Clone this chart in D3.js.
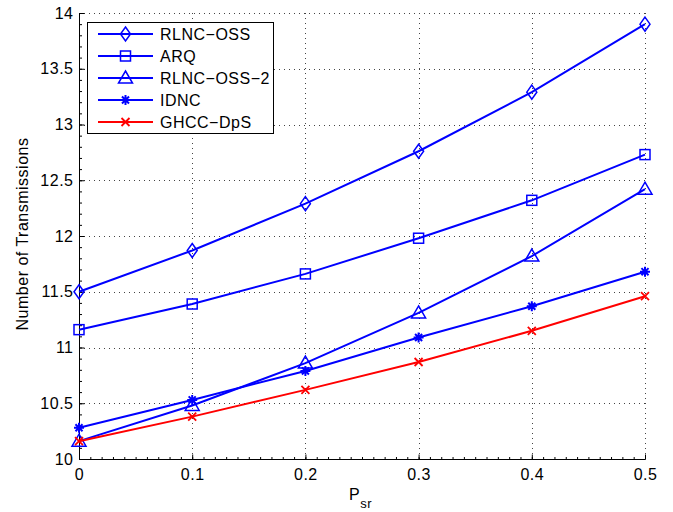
<!DOCTYPE html>
<html>
<head>
<meta charset="utf-8">
<script src="https://cdn.jsdelivr.net/npm/d3@7"></script>
<style>
  body { margin: 0; background: #fff; }
  text { font-family: "Liberation Sans", Helvetica, Arial, sans-serif; letter-spacing: 0.5px; }
</style>
</head>
<body>
<div id="chart"></div>
<script>
// データ-------------------------------------------------------------------
const psr = [0, 0.1, 0.2, 0.3, 0.4, 0.5];
const rlncOss = [11.50, 11.87, 12.29, 12.76, 13.29, 13.90];
const arq = [11.16, 11.39, 11.66, 11.98, 12.32, 12.73];
const rlncOss2 = [10.16, 10.48, 10.86, 11.31, 11.82, 12.42];
const idnc = [10.28, 10.53, 10.79, 11.09, 11.37, 11.68];
const ghcc = [10.16, 10.38, 10.62, 10.87, 11.15, 11.46];
const xTicks = [0, 0.1, 0.2, 0.3, 0.4, 0.5];
const yTicks = [10, 10.5, 11, 11.5, 12, 12.5, 13, 13.5, 14];

const series = [
  { name: 'RLNC\u2212OSS', values: rlncOss, color: '#0000ff', marker: 'diamond' },
  { name: 'ARQ', values: arq, color: '#0000ff', marker: 'square' },
  { name: 'RLNC\u2212OSS\u22122', values: rlncOss2, color: '#0000ff', marker: 'triangle' },
  { name: 'IDNC', values: idnc, color: '#0000ff', marker: 'star' },
  { name: 'GHCC\u2212DpS', values: ghcc, color: '#ff0000', marker: 'x' }
];

// SVG領域---------------------------------------------------------------
const width = 673, height = 512;
const margin = { left: 79, right: 28, top: 13, bottom: 53 };
const svg = d3.select('#chart').append('svg')
  .attr('width', width).attr('height', height);

const x = d3.scaleLinear().domain([0, 0.5]).range([margin.left, width - margin.right]);
const y = d3.scaleLinear().domain([10, 14]).range([height - margin.bottom, margin.top]);

// グリッド---------------------------------------------------------------
const grid = svg.append('g')
  .attr('stroke', '#444').attr('stroke-width', 1)
  .attr('stroke-dasharray', '1,4');
grid.selectAll('.gx').data(xTicks.slice(1)).enter().append('line')
  .attr('x1', d => Math.round(x(d)) + 0.5).attr('x2', d => Math.round(x(d)) + 0.5)
  .attr('y1', y(10)).attr('y2', y(14));
grid.selectAll('.gy').data(yTicks.slice(1)).enter().append('line')
  .attr('y1', d => Math.round(y(d)) + 0.5).attr('y2', d => Math.round(y(d)) + 0.5)
  .attr('x1', x(0)).attr('x2', x(0.5));

// 軸---------------------------------------------------------------------
const xAxis = svg.append('g')
  .attr('transform', 'translate(0,' + (Math.round(y(10)) + 0.5) + ')')
  .call(d3.axisBottom(x).tickValues(xTicks).tickFormat(d3.format('')).tickSize(-5).tickPadding(9));
const xMinor = svg.append('g')
  .attr('transform', 'translate(0,' + (Math.round(y(10)) + 0.5) + ')')
  .call(d3.axisBottom(x).tickValues(d3.range(0, 0.501, 0.01)).tickFormat('').tickSize(-2.5));
const yAxis = svg.append('g')
  .attr('transform', 'translate(' + (Math.round(x(0)) + 0.5) + ',0)')
  .call(d3.axisLeft(y).tickValues(yTicks).tickFormat(d3.format('')).tickSize(-5).tickPadding(6));
const yMinor = svg.append('g')
  .attr('transform', 'translate(' + (Math.round(x(0)) + 0.5) + ',0)')
  .call(d3.axisLeft(y).tickValues(d3.range(10, 14.001, 0.1)).tickFormat('').tickSize(-2.5));

[xAxis, yAxis, xMinor, yMinor].forEach(g => {
  g.select('.domain').attr('stroke', '#000');
  g.selectAll('.tick line').attr('stroke', '#000');
  g.selectAll('text').attr('font-size', '16px').attr('fill', '#000')
    .attr('font-family', '"Liberation Sans", Helvetica, Arial, sans-serif');
});
xMinor.select('.domain').remove();
yMinor.select('.domain').remove();
yAxis.select('.domain').attr('d', 'M0,' + y(14) + 'V' + (y(10) + 0.5));
xAxis.select('.domain').attr('d', 'M' + x(0) + ',0H' + x(0.5));

// ラベル-----------------------------------------------------------------
svg.append('text')
  .attr('transform', 'translate(28,234) rotate(-90)')
  .attr('text-anchor', 'middle')
  .attr('font-size', '16px')
  .text('Number of Transmissions');
const xl = svg.append('text')
  .attr('x', 349).attr('y', 500)
  .attr('font-size', '16px');
xl.append('tspan').text('P');
xl.append('tspan').attr('dy', 8).attr('font-size', '13px').text('sr');

// マーカー---------------------------------------------------------------
const drawMarker = (g, type, cx, cy, color) => {
  if (type === 'diamond') {
    g.append('path').attr('d', `M${cx},${cy - 7}L${cx + 5},${cy}L${cx},${cy + 7}L${cx - 5},${cy}Z`)
      .attr('fill', 'none').attr('stroke', color).attr('stroke-width', 1.5);
  } else if (type === 'square') {
    g.append('rect').attr('x', cx - 5).attr('y', cy - 5).attr('width', 10).attr('height', 10)
      .attr('fill', 'none').attr('stroke', color).attr('stroke-width', 1.5);
  } else if (type === 'triangle') {
    g.append('path').attr('d', `M${cx},${cy - 7}L${cx + 7},${cy + 5}L${cx - 7},${cy + 5}Z`)
      .attr('fill', 'none').attr('stroke', color).attr('stroke-width', 1.5);
  } else if (type === 'star') {
    const r = 5;
    let d = '';
    [0, 45, 90, 135].forEach(a => {
      const rad = a * Math.PI / 180;
      d += `M${cx - r * Math.cos(rad)},${cy - r * Math.sin(rad)}L${cx + r * Math.cos(rad)},${cy + r * Math.sin(rad)}`;
    });
    g.append('path').attr('d', d).attr('stroke', color).attr('stroke-width', 2);
  } else if (type === 'x') {
    const r = 4;
    g.append('path').attr('d', `M${cx - r},${cy - r}L${cx + r},${cy + r}M${cx - r},${cy + r}L${cx + r},${cy - r}`)
      .attr('stroke', color).attr('stroke-width', 1.8);
  }
};

// 折れ線-----------------------------------------------------------------
const line = d3.line().x(d => x(d[0])).y(d => y(d[1]));
series.forEach(s => {
  const g = svg.append('g');
  const pts = psr.map((p, i) => [p, s.values[i]]);
  g.append('path').datum(pts).attr('d', line)
    .attr('fill', 'none').attr('stroke', s.color).attr('stroke-width', 2);
  pts.forEach(p => drawMarker(g, s.marker, x(p[0]), y(p[1]), s.color));
});

// 凡例-------------------------------------------------------------------
const lg = svg.append('g');
lg.append('rect').attr('x', 87.5).attr('y', 22.5).attr('width', 186).attr('height', 111)
  .attr('fill', '#fff').attr('stroke', '#000').attr('stroke-width', 1);
series.forEach((s, i) => {
  const ly = 34 + i * 22;
  lg.append('line').attr('x1', 98).attr('x2', 153).attr('y1', ly).attr('y2', ly)
    .attr('stroke', s.color).attr('stroke-width', 2);
  drawMarker(lg, s.marker, 125.5, ly, s.color);
  lg.append('text').attr('x', 160).attr('y', ly + 6).attr('font-size', '16px').text(s.name);
});
</script>
</body>
</html>
